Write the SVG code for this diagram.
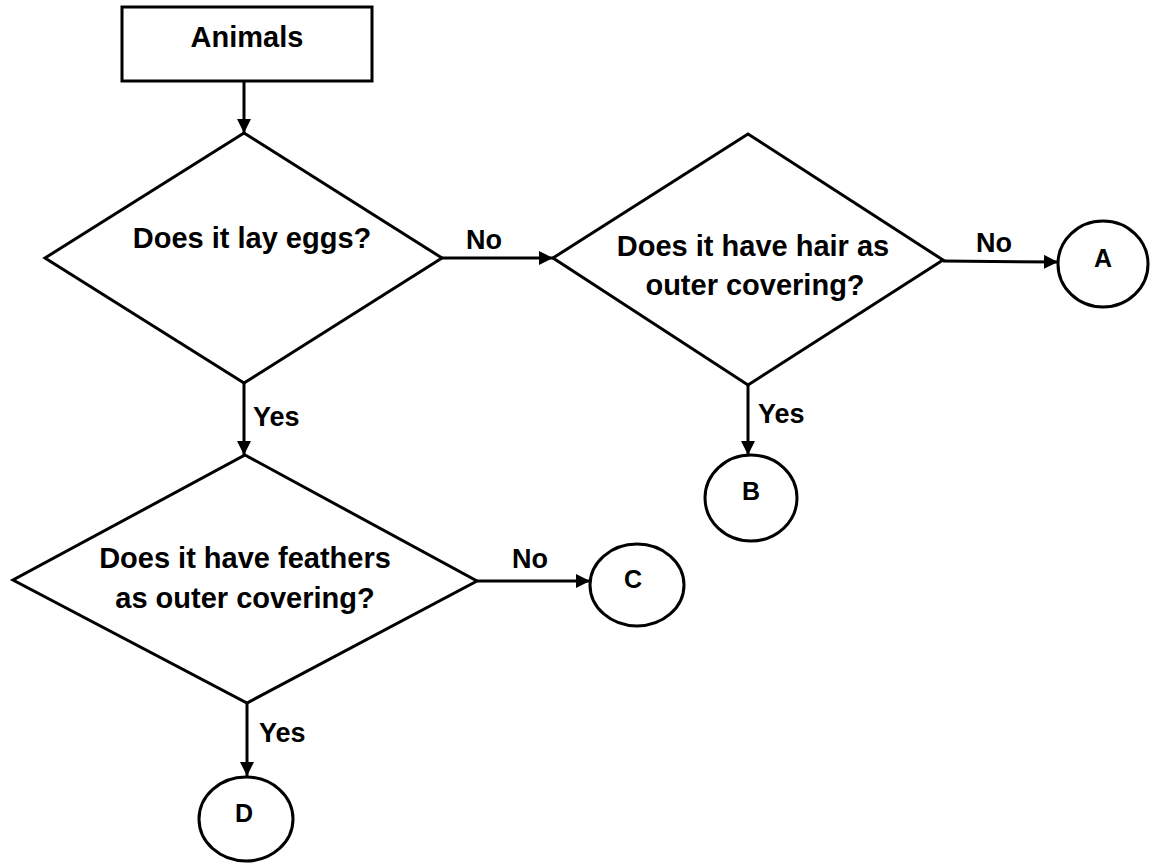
<svg xmlns="http://www.w3.org/2000/svg" width="1151" height="863" viewBox="0 0 1151 863">
<defs>
<marker id="arr" viewBox="0 0 14 14" refX="14" refY="7" markerWidth="14" markerHeight="14" markerUnits="userSpaceOnUse" orient="auto">
<path d="M0,0 L14,7 L0,14 Z" fill="#000"/>
</marker>
<style>
.shape{fill:#fff;stroke:#000;stroke-width:3}
.edge{fill:none;stroke:#000;stroke-width:3;marker-end:url(#arr)}
.t{font-family:"Liberation Sans",Arial,sans-serif;font-weight:bold;font-size:29px;text-anchor:middle;fill:#000}
.lbl{font-family:"Liberation Sans",Arial,sans-serif;font-weight:bold;font-size:27px;fill:#000}
.c{font-family:"Liberation Sans",Arial,sans-serif;font-weight:bold;font-size:25px;text-anchor:middle;fill:#000}
</style>
</defs>
<rect width="1151" height="863" fill="#fff"/>
<g id="connectors">
<line class="edge" x1="244" y1="81" x2="244" y2="133"/>
<line class="edge" x1="442" y1="258" x2="553" y2="258"/>
<line class="edge" x1="943" y1="261" x2="1058" y2="262"/>
<line class="edge" x1="244" y1="383" x2="244" y2="455"/>
<line class="edge" x1="748" y1="385" x2="748" y2="455"/>
<line class="edge" x1="477" y1="581" x2="590" y2="581"/>
<line class="edge" x1="247" y1="703" x2="247" y2="776"/>
<text class="lbl" x="466" y="249">No</text>
<text class="lbl" x="976" y="252">No</text>
<text class="lbl" x="253" y="426">Yes</text>
<text class="lbl" x="758" y="423">Yes</text>
<text class="lbl" x="512" y="568">No</text>
<text class="lbl" x="259" y="742">Yes</text>
</g>
<g id="animals">
<rect class="shape" x="122" y="7" width="250" height="74"/>
<text class="t" x="247" y="47">Animals</text>
</g>
<g id="lay-eggs">
<polygon class="shape" points="244,133 442,258 244,383 45,258"/>
<text class="t" x="252" y="248">Does it lay eggs?</text>
</g>
<g id="hair">
<polygon class="shape" points="748,134 943,260 748,385 553,258"/>
<text class="t" x="753" y="256">Does it have hair as</text>
<text class="t" x="755" y="295">outer covering?</text>
</g>
<g id="feathers">
<polygon class="shape" points="245,455 477,581 247,703 13,580"/>
<text class="t" x="245" y="568">Does it have feathers</text>
<text class="t" x="245" y="608">as outer covering?</text>
</g>
<g id="A">
<ellipse class="shape" cx="1103" cy="264" rx="45" ry="43"/>
<text class="c" x="1103" y="267">A</text>
</g>
<g id="B">
<ellipse class="shape" cx="751" cy="498" rx="46" ry="43"/>
<text class="c" x="751" y="500">B</text>
</g>
<g id="C">
<ellipse class="shape" cx="637" cy="585" rx="47" ry="41"/>
<text class="c" x="633" y="588">C</text>
</g>
<g id="D">
<ellipse class="shape" cx="246" cy="819" rx="47" ry="42"/>
<text class="c" x="244" y="822">D</text>
</g>
</svg>
